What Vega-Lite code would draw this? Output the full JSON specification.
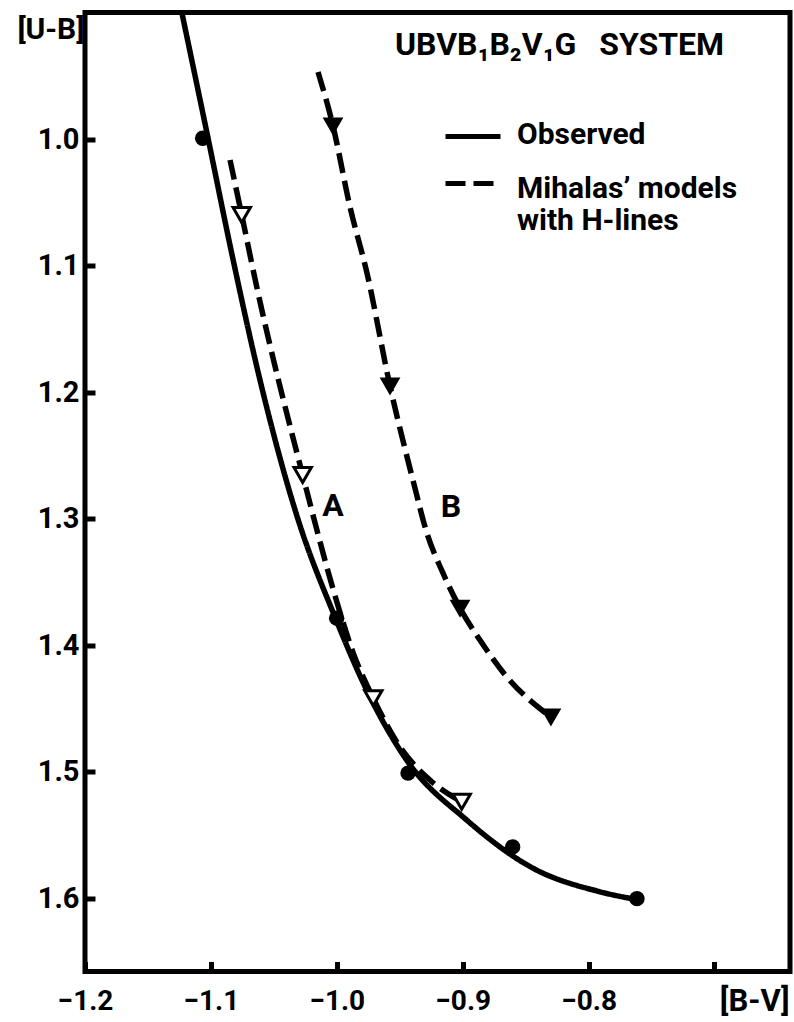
{
  "$schema": "https://vega.github.io/schema/vega-lite/v6.json",
  "width": 705,
  "height": 959,
  "autosize": {"type": "none"},
  "padding": {"left": 85, "top": 12.5, "right": 4, "bottom": 50.5},
  "background": "white",
  "config": {
    "view": {"stroke": "black", "strokeWidth": 5},
    "font": "Roboto",
    "axis": {
      "domain": false,
      "grid": false,
      "tickSize": -10,
      "tickWidth": 5,
      "tickColor": "black",
      "labelColor": "black",
      "labelFont": "Roboto",
      "labelFontWeight": "bold",
      "labelFontSize": 28,
      "titleColor": "black",
      "titleFont": "Roboto",
      "titleFontWeight": "bold",
      "labelFlush": false
    }
  },
  "datasets": {
    "curves": [
      {"curve": "obs", "kind": "Observed", "bv": -1.1230, "ub": 0.9004},
      {"curve": "obs", "kind": "Observed", "bv": -1.1023, "ub": 0.9992},
      {"curve": "obs", "kind": "Observed", "bv": -1.0835, "ub": 1.0901},
      {"curve": "obs", "kind": "Observed", "bv": -1.0597, "ub": 1.1958},
      {"curve": "obs", "kind": "Observed", "bv": -1.0306, "ub": 1.3012},
      {"curve": "obs", "kind": "Observed", "bv": -1.0014, "ub": 1.3779},
      {"curve": "obs", "kind": "Observed", "bv": -0.9762, "ub": 1.4356},
      {"curve": "obs", "kind": "Observed", "bv": -0.9445, "ub": 1.4909},
      {"curve": "obs", "kind": "Observed", "bv": -0.8968, "ub": 1.5383},
      {"curve": "obs", "kind": "Observed", "bv": -0.8442, "ub": 1.5763},
      {"curve": "obs", "kind": "Observed", "bv": -0.7909, "ub": 1.5950},
      {"curve": "obs", "kind": "Observed", "bv": -0.7592, "ub": 1.6016},
      {"curve": "A", "kind": "Mihalas' models with H-lines", "bv": -1.0848, "ub": 1.0166},
      {"curve": "A", "kind": "Mihalas' models with H-lines", "bv": -1.0755, "ub": 1.0601},
      {"curve": "A", "kind": "Mihalas' models with H-lines", "bv": -1.0636, "ub": 1.1168},
      {"curve": "A", "kind": "Mihalas' models with H-lines", "bv": -1.0271, "ub": 1.2656},
      {"curve": "A", "kind": "Mihalas' models with H-lines", "bv": -0.9988, "ub": 1.3697},
      {"curve": "A", "kind": "Mihalas' models with H-lines", "bv": -0.9869, "ub": 1.4063},
      {"curve": "A", "kind": "Mihalas' models with H-lines", "bv": -0.9710, "ub": 1.4421},
      {"curve": "A", "kind": "Mihalas' models with H-lines", "bv": -0.9498, "ub": 1.4804},
      {"curve": "A", "kind": "Mihalas' models with H-lines", "bv": -0.9260, "ub": 1.5067},
      {"curve": "A", "kind": "Mihalas' models with H-lines", "bv": -0.9008, "ub": 1.5239},
      {"curve": "B", "kind": "Mihalas' models with H-lines", "bv": -1.0149, "ub": 0.947},
      {"curve": "B", "kind": "Mihalas' models with H-lines", "bv": -1.003, "ub": 0.9897},
      {"curve": "B", "kind": "Mihalas' models with H-lines", "bv": -0.9895, "ub": 1.0537},
      {"curve": "B", "kind": "Mihalas' models with H-lines", "bv": -0.976, "ub": 1.106},
      {"curve": "B", "kind": "Mihalas' models with H-lines", "bv": -0.9577, "ub": 1.1953},
      {"curve": "B", "kind": "Mihalas' models with H-lines", "bv": -0.9395, "ub": 1.2696},
      {"curve": "B", "kind": "Mihalas' models with H-lines", "bv": -0.9284, "ub": 1.3115},
      {"curve": "B", "kind": "Mihalas' models with H-lines", "bv": -0.9157, "ub": 1.343},
      {"curve": "B", "kind": "Mihalas' models with H-lines", "bv": -0.9021, "ub": 1.3708},
      {"curve": "B", "kind": "Mihalas' models with H-lines", "bv": -0.8863, "ub": 1.396},
      {"curve": "B", "kind": "Mihalas' models with H-lines", "bv": -0.8648, "ub": 1.4253},
      {"curve": "B", "kind": "Mihalas' models with H-lines", "bv": -0.8299, "ub": 1.4569}
    ],
    "markers": [
      {"set": "obs", "bv": -1.1065, "ub": 0.9994},
      {"set": "obs", "bv": -1.0001, "ub": 1.3787},
      {"set": "obs", "bv": -0.9434, "ub": 1.5012},
      {"set": "obs", "bv": -0.8603, "ub": 1.5595},
      {"set": "obs", "bv": -0.7616, "ub": 1.6004},
      {"set": "A", "bv": -1.0755, "ub": 1.0601},
      {"set": "A", "bv": -1.0271, "ub": 1.2656},
      {"set": "A", "bv": -0.9710, "ub": 1.4421},
      {"set": "A", "bv": -0.9008, "ub": 1.5239},
      {"set": "B", "bv": -1.003, "ub": 0.9897},
      {"set": "B", "bv": -0.9577, "ub": 1.1953},
      {"set": "B", "bv": -0.9021, "ub": 1.3708},
      {"set": "B", "bv": -0.8299, "ub": 1.4569}
    ],
    "labels": [
      {"text": "A", "bv": -1.003, "ub": 1.2897},
      {"text": "B", "bv": -0.9093, "ub": 1.2905}
    ]
  },
  "encoding": {
    "x": {
      "field": "bv", "type": "quantitative",
      "scale": {"domain": [-1.2, -0.64], "nice": false, "zero": false},
      "axis": {
        "values": [-1.2, -1.1, -1.0, -0.9, -0.8, -0.7],
        "labelExpr": "abs(datum.value + 0.7) < 0.001 ? '' : format(datum.value, '.1f')",
        "labelPadding": 26,
        "labelBaseline": "top",
        "title": "[B-V]",
        "titleFontSize": 31,
        "titleX": 704,
        "titleY": 30,
        "titleAlign": "right",
        "titleBaseline": "middle",
        "titleAnchor": "end"
      }
    },
    "y": {
      "field": "ub", "type": "quantitative",
      "scale": {"domain": [0.9, 1.658], "reverse": true, "nice": false, "zero": false},
      "axis": {
        "values": [1.0, 1.1, 1.2, 1.3, 1.4, 1.5, 1.6],
        "format": ".1f",
        "labelFontSize": 29,
        "labelPadding": 16,
        "title": "[U-B]",
        "titleFontSize": 30,
        "titleAngle": 0,
        "titleX": -1,
        "titleY": 17,
        "titleAlign": "right",
        "titleBaseline": "middle",
        "titleAnchor": "start"
      }
    }
  },
  "layer": [
    {
      "data": {"name": "curves"},
      "mark": {"type": "line", "interpolate": "monotone", "color": "black", "strokeWidth": 5.5},
      "encoding": {
        "detail": {"field": "curve"},
        "strokeDash": {
          "field": "kind", "type": "nominal",
          "scale": {"domain": ["Observed", "Mihalas' models with H-lines"], "range": [[1, 0], [20, 8]]},
          "legend": {
            "orient": "none",
            "legendX": 310,
            "legendY": 17,
            "padding": 0,
            "title": "UBVB₁B₂V₁G\u2002\u2009SYSTEM",
            "titleLimit": 1000,
            "titleFontSize": 32,
            "titleFontWeight": "bold",
            "titleColor": "black",
            "titlePadding": 45,
            "titleBaseline": "top",
            "symbolType": "stroke",
            "symbolSize": 3025,
            "symbolStrokeWidth": 5,
            "symbolStrokeColor": "black",
            "symbolOffset": 48,
            "labelOffset": 14,
            "labelFontSize": 30,
            "labelFontWeight": "bold",
            "labelColor": "black",
            "labelLimit": 0,
            "labelBaseline": "middle",
            "rowPadding": 4,
            "labelExpr": "datum.label == 'Observed' ? 'Observed' : ['Mihalas\u2019 models', 'with H-lines']",
            "encode": {
              "labels": {"update": {"dy": {"signal": "datum.label == 'Observed' ? -2 : 5"}}}
            }
          }
        }
      }
    },
    {
      "data": {"name": "markers"},
      "transform": [{"filter": "datum.set == 'obs'"}],
      "mark": {"type": "point", "shape": "circle", "filled": true, "color": "black", "size": 240, "opacity": 1}
    },
    {
      "data": {"name": "markers"},
      "transform": [{"filter": "datum.set == 'A'"}],
      "mark": {"type": "point", "shape": "triangle-down", "filled": true, "fill": "white", "stroke": "black", "strokeWidth": 3, "size": 300, "opacity": 1}
    },
    {
      "data": {"name": "markers"},
      "transform": [{"filter": "datum.set == 'B'"}],
      "mark": {"type": "point", "shape": "triangle-down", "filled": true, "fill": "black", "stroke": "black", "strokeWidth": 2, "size": 300, "opacity": 1}
    },
    {
      "data": {"name": "labels"},
      "mark": {"type": "text", "font": "Roboto", "fontWeight": "bold", "fontSize": 32, "color": "black", "align": "center", "baseline": "middle"},
      "encoding": {"text": {"field": "text"}}
    }
  ]
}
